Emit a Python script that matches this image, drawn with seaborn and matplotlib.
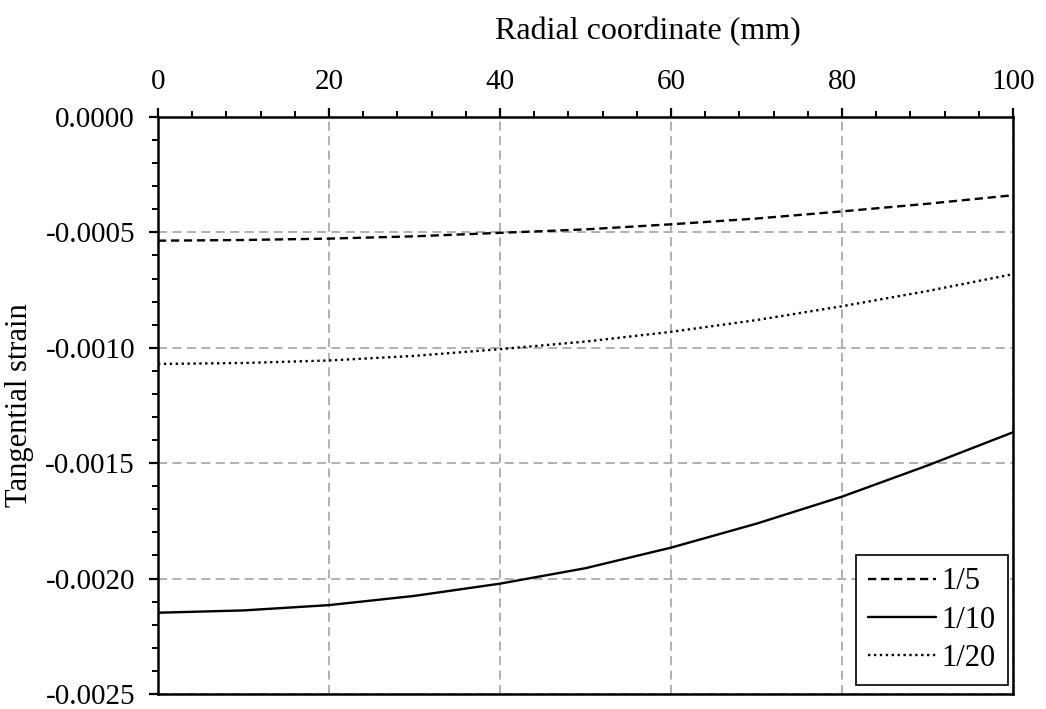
import matplotlib
matplotlib.use("Agg")
import matplotlib.pyplot as plt
from matplotlib.ticker import MultipleLocator, FormatStrFormatter
import seaborn as sns
import pandas as pd

# Radial positions (mm) and tangential strain for three ratios
radius = [0, 10, 20, 30, 40, 50, 60, 70, 80, 90, 100]
strain_1_5 = [-0.000536, -0.000533, -0.000527, -0.000517, -0.000502, -0.000487,
              -0.000465, -0.000440, -0.000409, -0.000376, -0.000339]
strain_1_10 = [-0.002148, -0.002138, -0.002115, -0.002075, -0.002022, -0.001955,
               -0.001866, -0.001762, -0.001645, -0.001510, -0.001366]
strain_1_20 = [-0.001070, -0.001066, -0.001055, -0.001035, -0.001006, -0.000973,
               -0.000931, -0.000880, -0.000820, -0.000754, -0.000681]
series_labels = ["1/5", "1/10", "1/20"]

sns.set_theme(style="white")
plt.rcParams["font.family"] = ["Liberation Serif", "DejaVu Serif"]
plt.rcParams["axes.unicode_minus"] = False
for key in ["text.color", "axes.labelcolor", "xtick.color", "ytick.color",
            "xtick.labelcolor", "ytick.labelcolor"]:
    plt.rcParams[key] = "black"

frames = []
for lab, vals in zip(series_labels, [strain_1_5, strain_1_10, strain_1_20]):
    frames.append(pd.DataFrame({"r": radius, "strain": vals, "ratio": lab}))
df = pd.concat(frames, ignore_index=True)

fig = plt.figure(figsize=(10.46, 7.09), dpi=100)
ax = fig.add_axes([0.151, 0.0212, 0.8175, 0.8138])

styles = {"1/5": (0, (3.5, 2.0)), "1/10": "-", "1/20": (0, (1, 1.5))}
for lab in series_labels:
    sub = df[df["ratio"] == lab]
    sns.lineplot(data=sub, x="r", y="strain", ax=ax, color="black",
                 linewidth=1.7, linestyle=styles[lab], label=lab)

ax.set_xlim(0, 100)
ax.set_ylim(-0.0025, 0.0)

ax.xaxis.set_major_locator(MultipleLocator(20))
ax.xaxis.set_minor_locator(MultipleLocator(4))
ax.yaxis.set_major_locator(MultipleLocator(0.0005))
ax.yaxis.set_minor_locator(MultipleLocator(0.0001))
ax.yaxis.set_major_formatter(FormatStrFormatter("%.4f"))

ax.xaxis.tick_top()
ax.xaxis.set_label_position("top")
ax.tick_params(axis="x", which="both", direction="out", top=True, bottom=False,
               color="black", labelcolor="black", labelsize=21, pad=9.5)
ax.tick_params(axis="y", which="both", direction="out", left=True, right=False,
               color="black", labelcolor="black", labelsize=21, pad=10)
ax.tick_params(which="major", length=6.5, width=1.6)
ax.tick_params(which="minor", length=4.5, width=1.4)

for sp in ax.spines.values():
    sp.set_visible(True)
    sp.set_color("black")
    sp.set_linewidth(1.8)

ax.grid(True, which="major", color="#aaaaaa", linestyle=(0, (5, 3)), linewidth=1.3)

ax.set_xlabel("Radial coordinate (mm)", fontsize=23, color="black")
ax.xaxis.set_label_coords(0.573, 1.135)
ax.set_ylabel("Tangential strain", fontsize=22, labelpad=8, color="black")

leg = ax.legend(loc="lower right", bbox_to_anchor=(1 - 5 / 855, 9 / 577),
                fontsize=22, frameon=True, fancybox=False,
                edgecolor="black", handlelength=2.2, handletextpad=0.2,
                borderpad=0.4, labelspacing=0.3, borderaxespad=0.0)
leg.get_frame().set_linewidth(1.2)
leg.get_frame().set_alpha(1)
for t in leg.get_texts():
    t.set_color("black")

fig.savefig("out.png", dpi=100)
